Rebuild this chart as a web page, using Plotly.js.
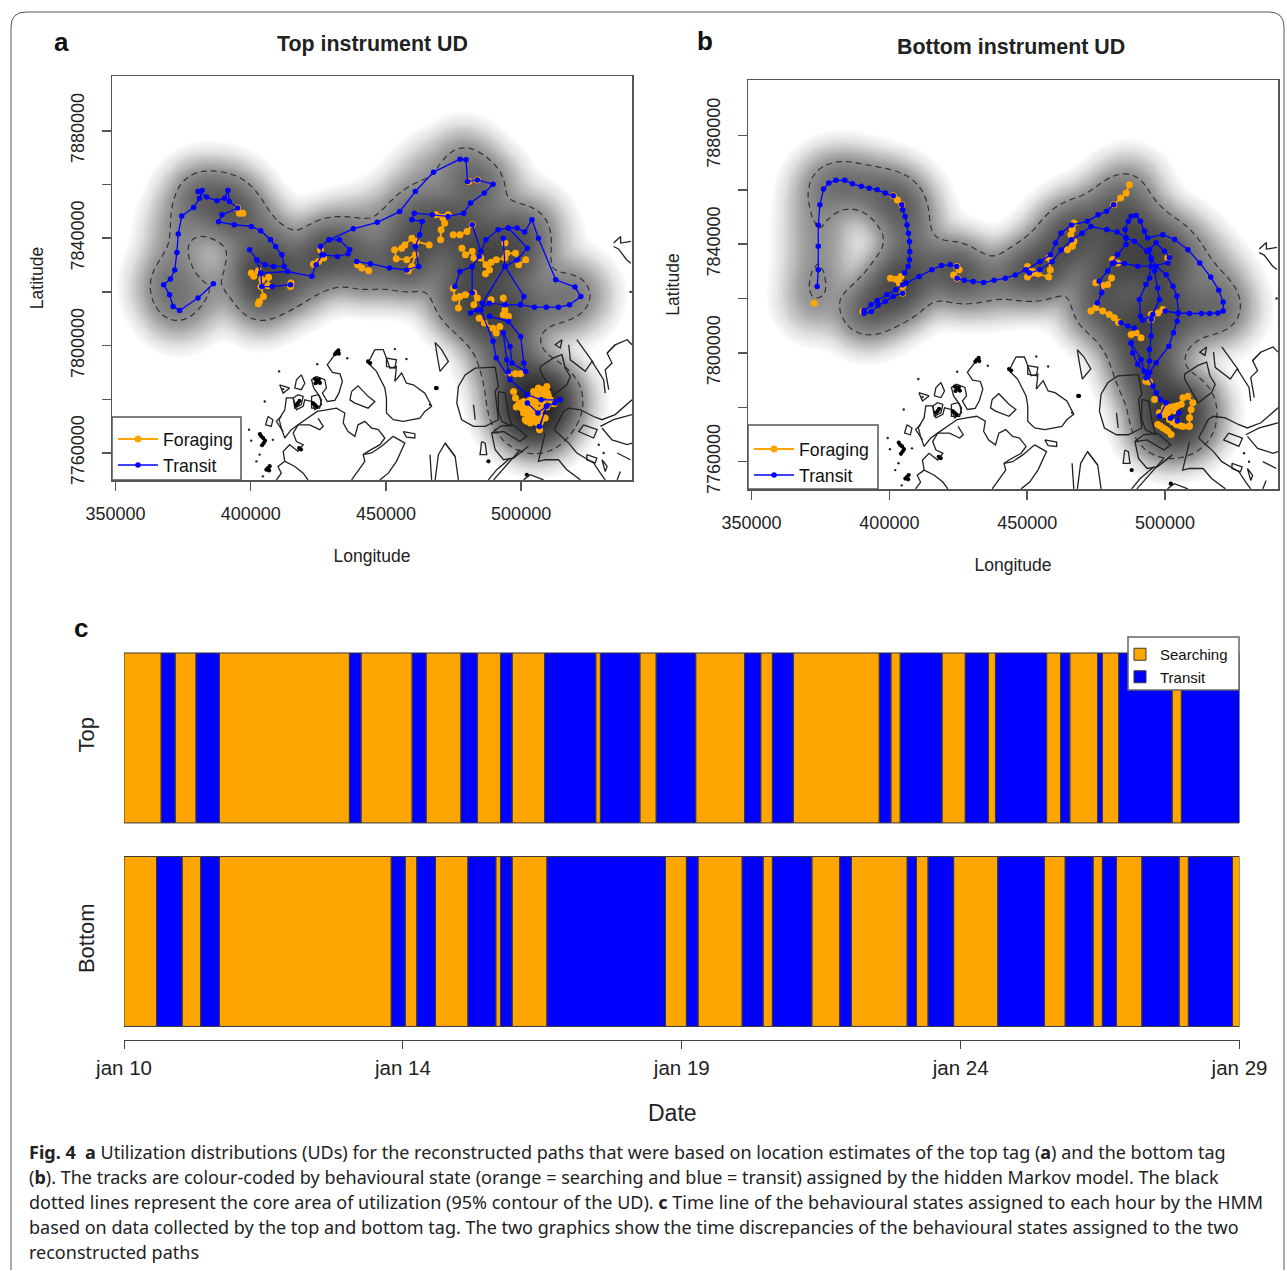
<!DOCTYPE html>
<html><head><meta charset="utf-8"><script src="https://cdn.plot.ly/plotly-3.0.1.min.js"></script>
<style>html,body{margin:0;padding:0;background:#fff}</style></head><body><div id="chart" style="width:1287px;height:1271px"></div>
<script>
// All positions in km (UTM-like), multiplied by 1000 when plotted.
const _ = null;
const coastLon = [415.7,417.5,419.4,418.7,416.3,415.7,_,422.5,424.9,426.2,425.5,422.5,422.5,_,411.3,409.5,412,_,
432,429.2,428.3,430.2,433,433.9,432.6,431.1,428.3,426.5,428,427.4,424.3,422.5,423.3,425.5,426.2,423.7,422.5,420,419.4,416.9,415.7,413.2,412.6,410.5,411.3,412.6,415,417.5,421.2,424.6,428,431.7,434.8,434.2,436,438.5,439.7,442.2,444.7,447.2,449.6,447.8,443.4,441.6,442.2,438.5,437.3,_,
424.9,426.8,425.5,421.8,417.5,415.7,416.9,419.4,417.5,414.4,412,412.6,416.3,419.4,421.2,_,
418.7,420,418.7,416.3,416.9,418.7,_,
437.3,439.7,443.4,445.9,443.4,438.5,436.7,437.3,_,
445.9,449,450.2,451.5,453.9,453.3,455.8,457.6,460.1,464.4,466.9,464.4,462.6,456.4,452.7,450.2,450.2,449.6,446.5,443.4,445.9,_,
450.2,453.9,453.3,450.2,450.2,_,
452.7,457,453.9,450.9,447.8,_,452.7,448.4,444.7,441.6,_,
456.4,460.7,460.7,457.6,456.4,_,
406.4,408.2,407.6,405.5,406.4,_,410.7,414.4,412,410.7,_,412.6,410.1,411.3,409.5,_,
468.2,470.6,473.1,470,468.8,468.2,_,
490.4,483,479.3,476.8,476.2,478,482.4,486.7,491.6,490.4,491.6,490.4,_,482.4,483,_,
491.6,494.1,495.3,496.6,492.9,491.6,491.6,_,
489.1,492.2,497.2,502.1,499.6,496.6,493.5,489.1,490.4,493.5,497.2,502.7,_,
507.1,507.1,512,515.1,516.3,518.2,516.9,512,508.9,507.1,_,
512.2,515.7,517.6,521.9,526.8,529.9,534.8,541,_,
508.9,507.7,506.4,508.9,513.8,516.9,521.9,_,
512.2,517.6,520.6,526.8,529.3,531.1,_,
523.1,528.1,526.8,521.3,523.1,_,
529.9,533.6,539.2,541,_,529.3,534.2,541,_,
517.6,518.2,523.7,526.2,530.5,531.1,_,520.6,524.3,526.8,_,
534.8,531.8,533.6,531.1,532.4,_,531.8,534.8,539.2,541,_,
515.1,512.6,514.5,515.1,_,
475.6,471.9,469.4,468.2,_,471.9,475.6,476.8,_,
485.4,486.7,487.3,484.8,485.4,_,496,491,487.9,_,499.6,495.3,489.8,_,500.9,503.4,508.3,_,466.3,466.9,_,
524.3,528,527.4,524.3,524.3,_,529.9,531.8,531.1,529.9,_,535.5,540.4,_,536.7,535.5,_,
534.2,536.8,536.8,540.6,_,534.2,536,539,540.6];
const coastLat = [7780.5,7781.7,7781.1,7778,7776.7,7780.5,_,7781.1,7781.7,7779.8,7776.7,7776.7,7781.1,_,7773.6,7771.8,7768,_,
7797.8,7794.1,7792.9,7790,7789.5,7786.7,7782.3,7779.6,7779.2,7782.3,7784.2,7787.3,7788.5,7787.3,7784.2,7781.1,7778,7776.1,7779.2,7779.8,7777.4,7776.1,7780.5,7780.5,7776.1,7772.6,7769.3,7765.6,7768.7,7770.5,7773,7775.5,7776.1,7776.7,7774.9,7771.2,7768,7766.2,7770.5,7771.8,7769.3,7768.7,7765.6,7763.1,7760.6,7759.4,7756.9,7751.9,7750,_,
7773,7769.9,7768.7,7770.5,7770.5,7767.4,7764.3,7763.1,7760.6,7763.1,7760.6,7756.9,7755,7752.5,7750,_,
7789.1,7786,7783.6,7784.2,7787.3,7789.1,_,
7782.9,7785,7781.1,7779.2,7776.7,7778.6,7779.8,7782.9,_,
7798.5,7798.5,7795.3,7791.6,7792.2,7786.7,7789.8,7786,7785.4,7782.3,7777.4,7775.5,7773,7771.8,7772.4,7774.9,7780.5,7784.2,7790.4,7793.5,7798.5,_,
7795.3,7794.7,7791.6,7792.2,7795.3,_,
7766.2,7763.7,7756.9,7752.5,7750,_,7766.2,7762.5,7760,7759.4,_,
7768,7767.2,7765.6,7765.9,7768,_,
7773.6,7772.4,7769.9,7770.5,7773.6,_,7785.4,7784.2,7782.3,7785.4,_,7756.9,7755,7752.5,7750,_,
7801.2,7798.5,7794.1,7790.4,7797.2,7801.2,_,
7792,7791.6,7789.1,7784.8,7778.6,7772.4,7769.9,7769.9,7772.4,7782.9,7784.8,7792,_,7778,7772.4,_,
7782.9,7782.3,7774.9,7769.9,7771.8,7775.5,7782.9,_,
7767.4,7769.9,7770.5,7766.2,7764.3,7766.2,7768,7767.4,7761.2,7757.5,7758.1,7762.5,_,
7790.4,7792.2,7795.4,7796.6,7791.6,7788.5,7785.4,7781.7,7787.3,7790.4,_,
7768.7,7775.5,7776.7,7776.1,7773.6,7772.4,7774.3,7779.8,_,
7767.4,7762.5,7756.9,7757.5,7757.5,7753.8,7750,_,
7768.7,7763.7,7760,7756.3,7752.5,7750,_,
7770.5,7768.7,7765.6,7768,7770.5,_,
7769.3,7764.9,7763.1,7763.7,_,7769.9,7772.4,7774.3,_,
7800.3,7794.7,7790.4,7794.1,7787.3,7782.3,_,7802.2,7797.2,7793.5,_,
7800.3,7797.2,7793.5,7791,7783.6,_,7797.2,7800.3,7802.2,7800.3,_,
7802.2,7800.3,7799.1,7802.2,_,
7758.7,7763.7,7759.4,7750,_,7763.7,7758.7,7750,_,
7764.3,7763.7,7759.4,7759.4,7764.3,_,7758.1,7753.8,7750,_,7761.2,7756.3,7750,_,7750,7751.9,7750,_,7759.4,7750,_,
7759.4,7758.1,7756.3,7757.5,7759.4,_,7757.5,7755,7753.1,7757.5,_,7760,7757.5,_,7753.1,7750,_,
7838.2,7840.6,7838.2,7838.8,_,7836.9,7836,7832,7830.7];
const clumpLon = [431.7,432.4,431.2,432.6,443.4,444.2,424.6,425.2,424,425.6,423.8,403.9,404.6,403.4,404.8,404.2,405.3,406.4,407,405.8,406.8,417.9,418.6,468.8,423.7,424.4,423,417.5,418,416.9,468.5,487.9,502.1];
const clumpLat = [7797.5,7798.2,7796.8,7797,7794.1,7793.5,7786.7,7787.4,7786,7786.1,7787.6,7766.2,7765.6,7767,7763.7,7762.9,7764.6,7754.4,7755.1,7753.8,7753.5,7761.8,7761.3,7784.2,7778,7777.3,7778.6,7778.6,7779.4,7778,7784.2,7756.9,7751.9];
const speckLon = [405.2,403.3,402.1,410.5,424.6,435.7,453.3,457.6,399.4,400.2,408.2,404.5,412,466.3,530.5,528.7,540.5];
const speckLat = [7779.2,7759.4,7756.9,7790.4,7793.1,7795.3,7798.7,7795,7768.7,7764.6,7764.9,7751.3,7783.8,7778,7760,7763.1,7820];

const topTransitLon = [386.2,380.5,373.7,371.3,370,367.8,370.3,371.9,372.7,373.2,374.5,378.9,381.1,382,380.5,383.7,387.5,390.3,391.6,392.1,395.1,389.4,388.1,393.9,400.2,403.7,407.3,409.2,411.5,412.4,408.5,405.3,402.2,399.6,_,
402.2,403.7,404.1,407.9,414.7,_,403.7,413.6,422.6,424.2,426.4,425.8,429,432.8,436.6,436,432.1,427,_,
429,437.9,446.8,455.1,460.9,467.6,477.4,479.6,480.2,483.8,489.6,486.4,481.3,478.7,473,467.2,460.5,459.6,463.4,462.5,460.9,462.1,457.7,451.3,444.3,439.2,_,
481.9,485.1,487,491.5,495.3,498.5,501.3,504,506.4,512.8,519.9,522.1,517.9,513.8,509.3,504.9,499.8,494,488.3,483.8,481.3,_,
495.3,502.3,498.5,494,501,499.8,_,493.4,494,485.7,_,484.5,481.9,477.4,475.5,_,481.9,481.9,_,
485.1,489.6,490.8,495.9,502.3,507.4,514.4,_,488.3,495.3,499.8,501,501.7,496.6,495.9,493.4,494.7,495.3,_,502.3,506.2,509.4,506.8,_,512.5,509.4];
const topTransitLat = [7823,7817.7,7813.1,7814.6,7818.9,7822.7,7824.8,7828.2,7834.7,7841.6,7848.3,7851.4,7854.9,7857.8,7857.4,7855.3,7853.9,7854.9,7857.8,7853.7,7851.2,7848.7,7846.1,7845,7844.4,7842.8,7839.4,7836.9,7833.8,7829.5,7829.5,7830.1,7831.9,7835.7,_,
7831.9,7827,7822,7822,7822.7,_,7827,7827.6,7825.8,7830.1,7833.8,7836.9,7839.4,7839.4,7835.7,7834.2,7833.2,7833.8,_,
7839.4,7843.5,7845.9,7849.9,7857.4,7864.6,7869.4,7869.2,7861.1,7861.7,7860.1,7856.8,7853.1,7849.3,7848.1,7848.7,7849.3,7846.9,7846.2,7841.3,7836.9,7829.5,7828.2,7828.9,7830.5,7831.3,_,
7845,7835.1,7839.4,7843.1,7843.8,7843.8,7842.3,7846.9,7840,7824.5,7821.8,7818.3,7815.2,7814.3,7814.3,7814.3,7815.2,7815.2,7815.8,7813.3,7812.1,_,
7843.8,7836.3,7831.9,7829.5,7818.3,7815.2,_,7840,7829.5,7815.8,_,7833.2,7829.5,7827.6,7822,_,7829.5,7819.6,_,
7813.3,7801.6,7795.4,7787.3,7781.7,7779.8,7779.8,_,7810.9,7809,7803.4,7793.5,7790.4,7793.5,7799.7,7804.7,7794.7,7790.4,_,7778.6,7774.9,7777.4,7769.9,_,7778.6,7777.4];
const topForagingLon = [395.1,395.8,397.1,_,400.2,401.1,402.8,404.1,406.6,406.4,403.8,404.7,403.2,402.8,_,414.9,414.7,_,423.2,425.1,427,425.8,_,439.5,441.1,443.6,_,
458.3,459.6,460.9,457.7,453.8,453.2,455.8,457,459.6,461.2,466,_,470.2,470.4,471.7,471.1,468.5,473,_,474.9,477.4,480,481.9,_,480.6,483.8,_,
478.1,479.4,481.9,482.5,485.1,487,488.9,488.3,486.8,_,490.8,494,494.7,497.9,499.1,501.7,_,494,_,
474.9,475.5,477.4,476.8,_,479.4,482.5,483.8,482.5,_,484.5,486.4,489.6,490.8,492.1,_,488.9,_,493.4,494,495.3,493.4,_,495.3,497.9,499.8,_,497.2,497.9,_,
504.6,507.7,509.5,509.8,508.3,505.8,503.4,500.9,499,498.2,500.3,502.7,505.2,507.7,510.8,512.2,509.5,507.1,504.6,503.4,501.5,503.4,505.8,508.9,506.8,_,502.1,505.8,503.4,506.4,_,
499.6,501.5,503.4,504.6,505.8,507.1,508.9,_,502.1,500.9,502.7,504.6,505.8,_,502.1,504,505.2,507.1,508.3,510.1,506.4];
const topForagingLat = [7851.2,7849.3,7849.3,_,7827,7825.8,7827.9,7824.5,7825.5,7822.3,7822,7818.3,7816.4,7815.6,_,7823.3,7822,_,7830.3,7831.3,7832.6,7835.7,_,7830.1,7828.9,7827.9,_,
7827.9,7829.5,7833.8,7832,7832.3,7835.7,7836.3,7837.5,7840,7838.8,7837.5,_,7839.4,7843.1,7845.6,7847.5,7848.7,7848.7,_,7841.3,7841.3,7842.5,7845,_,7861.1,7861.7,_,
7836.3,7833.8,7835.1,7832.6,7832.6,7830.1,7831,7828.2,7826.8,_,7832,7832.6,7834.4,7834.4,7830.1,7832,_,7838.2,_,
7821.4,7817.7,7818.3,7814,_,7818.9,7819.6,7817.7,7815.2,_,7810.2,7808.4,7806.5,7804.7,7807.1,_,7817.1,_,7817.7,7813.3,7810.9,7811.5,_,7789.8,7789.5,7789.5,_,7782.9,7780.5,_,
7782.9,7783.6,7784.8,7782.3,7781.7,7780.5,7780.5,7779.2,7778,7777.1,7776.7,7777.4,7778,7779.2,7779.8,7778.3,7777.1,7776.1,7774.9,7773.4,7772.4,7771.2,7771.4,7773,7768.7,_,7774.9,7773.4,7776.1,7779.2,_,
7778.6,7778,7778.6,7779.2,7781.7,7780.5,7783.6,_,7776.1,7774.9,7774.3,7776.1,7776.1,_,7771.8,7772.4,7773,7773.6,7777.4,7781.1,7784.2];

const botTransitLon = [373.8,374.2,374.2,374.2,374.8,376.1,378,380.6,383.8,386.6,389.8,392.7,395.6,398.5,401.4,_,
404.5,404.8,405.7,406.4,406.9,407.3,407.4,407.3,406.8,405.5,_,404.8,401.4,398.5,395.9,393.4,390.8,_,
390.8,393.4,395.6,399.1,402.3,404.8,406.1,410.8,415.4,418.9,422.1,424.4,_,
424.6,427.2,430.4,434.2,438,442.1,445.7,449.5,454.6,458.4,460.3,462.3,466.1,471.8,475.7,478.8,481.4,_,
450.8,454.6,459,462.3,466.1,469.9,473.1,478.9,482.6,485.9,488.9,493.5,496.8,500.4,502.9,504.3,504.9,504.4,503.1,501.4,496.8,494.4,493.1,_,
482.8,485.9,485.9,485.5,486.7,487.7,489.5,491.1,492.5,493.7,499.2,503.5,508.3,512.6,516.6,519.5,521.1,521.1,519.2,516.2,513.2,508.9,504.7,500.1,_,
494.4,495,_,493.5,496.8,499.8,501.6,_,481.6,485.3,490.1,495,501,_,
496.2,497.4,498,495.6,491.9,491.1,490.7,493.1,494.4,495,_,
482.8,481,479.2,476.1,477,475.5,_,484,486.5,488.9,_,495,495,494.4,494.4,493.7,_,
487.7,488.3,490.1,492.5,491.3,487.7,_,493.7,495.6,496.8,498.4,500.4,498,_,502,505,504.5];
const botTransitLat = [7824.4,7830.6,7839.2,7847.1,7854.5,7860.3,7862.5,7863.5,7863.5,7862.2,7861.3,7860.6,7860,7858.8,7857.8,_,
7854.5,7852.7,7850.2,7847.1,7844,7841,7837.3,7834.3,7831.8,7829.4,_,7822,7820.8,7818.9,7817.5,7815.2,7814.6,_,
7815.6,7817.7,7819.3,7821.4,7823.2,7825.1,7825.7,7828.1,7830.6,7832.2,7832.4,7831.8,_,
7827.5,7826.7,7826.3,7825.9,7826.7,7827.5,7828.7,7830.6,7833.6,7836.1,7840.4,7844.1,7847.1,7848.4,7850.8,7852.1,7854.5,_,
7829.4,7830.6,7833.6,7837.9,7841.6,7844,7846.5,7845.3,7844.5,7842.3,7841.1,7837.4,7831.9,7828.8,7824.5,7820.9,7814.7,7811.7,7807.4,7802.5,7796.4,7792.7,7790.9,_,
7836.2,7839.9,7842.3,7845.4,7848.4,7850.3,7850.6,7848.4,7844.8,7842.3,7843.5,7841.7,7838,7833.1,7827.9,7823.1,7818.7,7815.4,7814.7,7814.5,7814.5,7814.5,7814.7,7815.4,_,
7838,7835,_,7837.4,7840.5,7837.4,7835,_,7833.1,7832.9,7831.9,7831.9,7833.1,_,
7830.1,7823.9,7819.7,7814.1,7812,7813.5,7819.7,7825.2,7827.6,7834.3,_,
7836.2,7833.1,7830.1,7826.4,7822.1,7818.4,_,7811.1,7809.9,7809.2,_,7812.3,7806.2,7801.3,7797,7792.7,_,
7803.7,7800,7795.8,7793.3,7797.6,7803.7,_,7791.5,7787.8,7785.4,7782.9,7781.7,7776.8,_,7776,7778,7775];
const botForagingLon = [372.7,_,401.4,402.9,404.5,_,400.4,402.3,404.2,403.6,404.8,404.8,_,390.4,_,424.4,425.3,423.3,424.6,_,450.1,452,450.1,454,457.8,458.4,457.8,_,
481.4,483.9,485.9,487.1,_,465.8,466.4,467,_,464.6,466.4,467,_,
481,482.8,_,474.9,477.4,479.2,480.6,_,473.1,474.9,477.4,479.8,481.6,483.1,_,487.7,489.5,491.3,_,501,_,495,495,497.4,499.2,_,493.1,494.4,_,496.2,_,
498,499.8,501.4,502.9,504.4,505.9,506.5,508.3,510.1,509.5,508.9,508.9,508.7,506.5,505.3,504.1,502.8,501.6,499.8,_,501,503.5,_,497.4,498.3,499.2,500.1,501,502.2];
const botForagingLat = [7818.3,_,7857.8,7856.3,7854.5,_,7827.5,7827.1,7828.1,7825.7,7824.4,7822,_,7815.2,_,7831.8,7830.6,7828.7,7827.5,_,7831.8,7830,7827.9,7829.1,7827.9,7830.6,7834.9,_,
7854.5,7857,7858.8,7861.9,_,7843.5,7845.4,7847.8,_,7838,7839.2,7841.1,_,
7834.4,7833.1,_,7825.8,7824.8,7825.2,7827.6,_,7815.4,7816.6,7815.4,7814.1,7812.9,7811.3,_,7806.8,7807.4,7805.6,_,7835,_,7814.1,7812.3,7814.7,7816,_,7789.6,7789.3,_,7782.9,_,
7778,7779.8,7780,7780.2,7780.6,7781.1,7783.5,7784.1,7781.7,7779.2,7776.2,7773.1,7772.9,7772.9,7773.3,7773.7,7774.6,7775.5,7777.4,_,7778,7778.6,_,7773.7,7773.1,7772.5,7771.9,7771.3,7770];

// Hour at which each behavioural run ends; runs alternate, starting with searching.
const topRunEnds = [16,22,31,41,97,102,124,130,145,152,162,167,181,203,205,222,229,246,267,274,279,288,325,330,334,352,362,372,375,397,403,407,419,421,428,451,455,480];
const bottomRunEnds = [14,25,33,41,115,121,126,134,148,160,162,167,182,233,242,247,266,275,279,296,308,313,337,341,346,357,376,396,405,417,421,427,438,454,458,477,480];
const dateTickHours = [0,120,240,360,480];
const dateTickLabels = ['jan 10','jan 14','jan 19','jan 24','jan 29'];
const lonTicks = [350000,400000,450000,500000];
const latTicks = [7760000,7780000,7800000,7820000,7840000,7860000,7880000];
const latLabels = ['7760000','','7800000','','7840000','','7880000'];
const captionLines = [
 '<b>Fig. 4  a</b> Utilization distributions (UDs) for the reconstructed paths that were based on location estimates of the top tag (<b>a</b>) and the bottom tag',
 '(<b>b</b>). The tracks are colour-coded by behavioural state (orange = searching and blue = transit) assigned by the hidden Markov model. The black',
 'dotted lines represent the core area of utilization (95% contour of the UD). <b>c</b> Time line of the behavioural states assigned to each hour by the HMM',
 'based on data collected by the top and bottom tag. The two graphics show the time discrepancies of the behavioural states assigned to the two',
 'reconstructed paths'];

const W=1287,H=1271, ORANGE='#FFA500', BLUE='#0000FF', FONT='"Liberation Sans", Arial, sans-serif';
const px=x=>x/W, py=y=>1-y/H;
const m=a=>a.map(v=>v===null?null:v*1000);

// The UD surface is a kernel density of the track positions read above.
function density(lons,lats){
  const xs=[],ys=[],z=[],pts=[];
  lons.forEach((v,i)=>{if(v!==null)pts.push([v,lats[i]]);});
  for(let x=348;x<=542;x+=2)xs.push(x*1000);
  for(let y=7749;y<=7901;y+=2)ys.push(y*1000);
  const s2=2*6*6;
  ys.forEach(Y=>{const r=[];xs.forEach(X=>{let f=0;pts.forEach(p=>{const dx=X/1000-p[0],dy=Y/1000-p[1];f+=Math.exp(-(dx*dx+dy*dy)/s2);});r.push(Math.log10(f+1e-3));});z.push(r);});
  return {xs,ys,z};
}
const GREYS=[[0,'#ffffff'],[0.081,'#ffffff'],[0.324,'#e2e2e2'],[0.486,'#bcbcbc'],[0.62,'#8f8f8f'],[0.703,'#757575'],[0.811,'#505050'],[0.946,'#282828'],[1,'#1c1c1c']];
const CONTOUR_LEVEL=0.3;

function panel(xa,ya,lg,tLon,tLat,fLon,fLat){
  const d=density(tLon.concat(fLon),tLat.concat(fLat));
  return [
   {type:'heatmap',x:d.xs,y:d.ys,z:d.z,xaxis:xa,yaxis:ya,zmin:-2,zmax:1.7,colorscale:GREYS,showscale:false,zsmooth:'best',hoverinfo:'skip',showlegend:false},
   {type:'contour',x:d.xs,y:d.ys,z:d.z,xaxis:xa,yaxis:ya,autocontour:false,contours:{coloring:'none',start:CONTOUR_LEVEL,end:CONTOUR_LEVEL,size:1,showlabels:false},line:{color:'#333',width:1.2,dash:'6px,4px',smoothing:1},showscale:false,hoverinfo:'skip',showlegend:false},
   {type:'scatter',mode:'lines',x:m(coastLon),y:m(coastLat),xaxis:xa,yaxis:ya,line:{color:'#222',width:1.3},showlegend:false,hoverinfo:'skip',connectgaps:false},
   {type:'scatter',mode:'markers',x:m(clumpLon),y:m(clumpLat),xaxis:xa,yaxis:ya,marker:{color:'#000',size:4.2},showlegend:false,hoverinfo:'skip'},
   {type:'scatter',mode:'markers',x:m(speckLon),y:m(speckLat),xaxis:xa,yaxis:ya,marker:{color:'#222',size:2.4},showlegend:false,hoverinfo:'skip'},
   {type:'scatter',mode:'lines+markers',name:'Foraging',legend:lg,x:m(fLon),y:m(fLat),xaxis:xa,yaxis:ya,line:{color:ORANGE,width:1.8},marker:{color:ORANGE,size:7}},
   {type:'scatter',mode:'lines+markers',name:'Transit',legend:lg,x:m(tLon),y:m(tLat),xaxis:xa,yaxis:ya,line:{color:BLUE,width:1.3},marker:{color:BLUE,size:5.5}}
  ];
}
function runs(ends,first){
  const out=[{b:[],d:[]},{b:[],d:[]}];let s=0;
  ends.forEach((e,i)=>{const o=out[(i+first)%2];o.b.push(s);o.d.push(e-s);s=e;});
  return out;
}
function bars(ends,row,show){
  const r=runs(ends,0);const common={type:'bar',orientation:'h',xaxis:'x3',yaxis:'y3',width:0.835,legend:'legend3',hoverinfo:'skip'};
  return [
   Object.assign({},common,{name:'Searching',showlegend:show,x:r[0].d,base:r[0].b,y:r[0].d.map(()=>row),marker:{color:ORANGE,line:{color:'#3a3a3a',width:1}}}),
   Object.assign({},common,{name:'Transit',showlegend:show,x:r[1].d,base:r[1].b,y:r[1].d.map(()=>row),marker:{color:BLUE,line:{color:'#3a3a3a',width:1}}})
  ];
}
const data=[].concat(
 panel('x','y','legend',topTransitLon,topTransitLat,topForagingLon,topForagingLat),
 panel('x2','y2','legend2',botTransitLon,botTransitLat,botForagingLon,botForagingLat),
 bars(topRunEnds,1,true),bars(bottomRunEnds,0,false));

const mapX=(dom,title)=>({domain:dom,range:[348700,541000],tickvals:lonTicks,ticktext:lonTicks.map(String),ticks:'outside',ticklen:9,tickcolor:'#555',tickwidth:1.5,showline:true,mirror:true,linecolor:'#555',linewidth:1.5,showgrid:false,zeroline:false,tickfont:{size:18,color:'#222'},ticklabelstandoff:8,title:{text:title,font:{size:17.5,color:'#222'},standoff:26},automargin:false});
const mapY=(dom,title)=>({domain:dom,range:[7749950,7900400],tickvals:latTicks,ticktext:latLabels,tickangle:-90,ticks:'outside',ticklen:9,tickcolor:'#555',tickwidth:1.5,showline:true,mirror:true,linecolor:'#555',linewidth:1.5,showgrid:false,zeroline:false,tickfont:{size:18,color:'#222'},ticklabelstandoff:10,title:{text:title,font:{size:17.5,color:'#222'},standoff:20},automargin:false});

const ann=(t,x,y,s,extra)=>Object.assign({text:t,xref:'paper',yref:'paper',x:px(x),y:py(y),xanchor:'center',yanchor:'middle',showarrow:false,font:{size:s,color:'#111',family:FONT}},extra||{});
const annotations=[
 ann('<b>a</b>',61,42,26),ann('<b>b</b>',705,41,26),ann('<b>c</b>',81,628,26),
 ann('<b>Top instrument UD</b>',372,44,21.4,{font:{size:21.4,color:'#222',family:FONT}}),ann('<b>Bottom instrument UD</b>',1011,47,21.4,{font:{size:21.4,color:'#222',family:FONT}}),
 ann('Date',672,1113,23,{font:{size:23,color:'#222',family:FONT}})
].concat(captionLines.map((t,i)=>ann(t,27,1152+i*25,18,{xanchor:'left',font:{size:18,color:'#222',family:'"Noto Sans",sans-serif'}})));

const rect=(x0,y0,x1,y1,fill,line)=>({type:'rect',xref:'paper',yref:'paper',x0:px(x0),x1:px(x1),y0:py(y0),y1:py(y1),fillcolor:fill,line:{color:line,width:1.5},layer:'above'});
const frame={type:'path',xref:'paper',yref:'paper',layer:'below',line:{color:'#555',width:1},
 path:`M ${px(11)} ${py(1270)} L ${px(11)} ${py(27)} Q ${px(11)} ${py(12)} ${px(26)} ${py(12)} L ${px(1269)} ${py(12)} Q ${px(1284)} ${py(12)} ${px(1284)} ${py(27)} L ${px(1284)} ${py(1270)}`};

const legendBase=(x,y)=>({x:px(x),y:py(y),xanchor:'left',yanchor:'top',bgcolor:'rgba(0,0,0,0)',borderwidth:0,font:{size:17.7,color:'#111',family:FONT},itemwidth:40,tracegroupgap:0});
const layout={
 width:W,height:H,margin:{l:0,r:0,t:0,b:0},paper_bgcolor:'#fff',plot_bgcolor:'#fff',font:{family:FONT},barmode:'overlay',
 xaxis:mapX([px(112),px(632)],'Longitude'),yaxis:Object.assign(mapY([py(480),py(76)],'Latitude'),{anchor:'x'}),
 xaxis2:Object.assign(mapX([px(748),px(1278)],'Longitude'),{anchor:'y2'}),yaxis2:Object.assign(mapY([py(489),py(80)],'Latitude'),{anchor:'x2'}),
 xaxis3:{domain:[px(124),px(1239.5)],anchor:'y3',range:[0,480],tickvals:dateTickHours,ticktext:dateTickLabels,ticks:'outside',ticklen:8,tickcolor:'#444',showline:true,linecolor:'#444',linewidth:1,showgrid:false,zeroline:false,tickfont:{size:20.5,color:'#222'},ticklabelstandoff:1},
 yaxis3:{domain:[py(1040),py(637)],anchor:'x3',range:[-0.484,1.496],tickvals:[0,1],ticktext:['Bottom','Top'],tickangle:-90,ticks:'',showline:false,showgrid:false,zeroline:false,tickfont:{size:22,color:'#222'},ticklabelstandoff:25},
 legend:legendBase(113,421),legend2:legendBase(749,431),
 legend3:Object.assign(legendBase(1120,638),{font:{size:15,color:'#111',family:FONT},itemwidth:30}),
 annotations,
 shapes:[frame,rect(112,417,241,480,'#fff','#555'),rect(748,425,878,489,'#fff','#555'),rect(1128,637,1239,690,'#fff','#666')]
};
Plotly.newPlot('chart',data,layout,{staticPlot:true,displayModeBar:false});
</script></body></html>
